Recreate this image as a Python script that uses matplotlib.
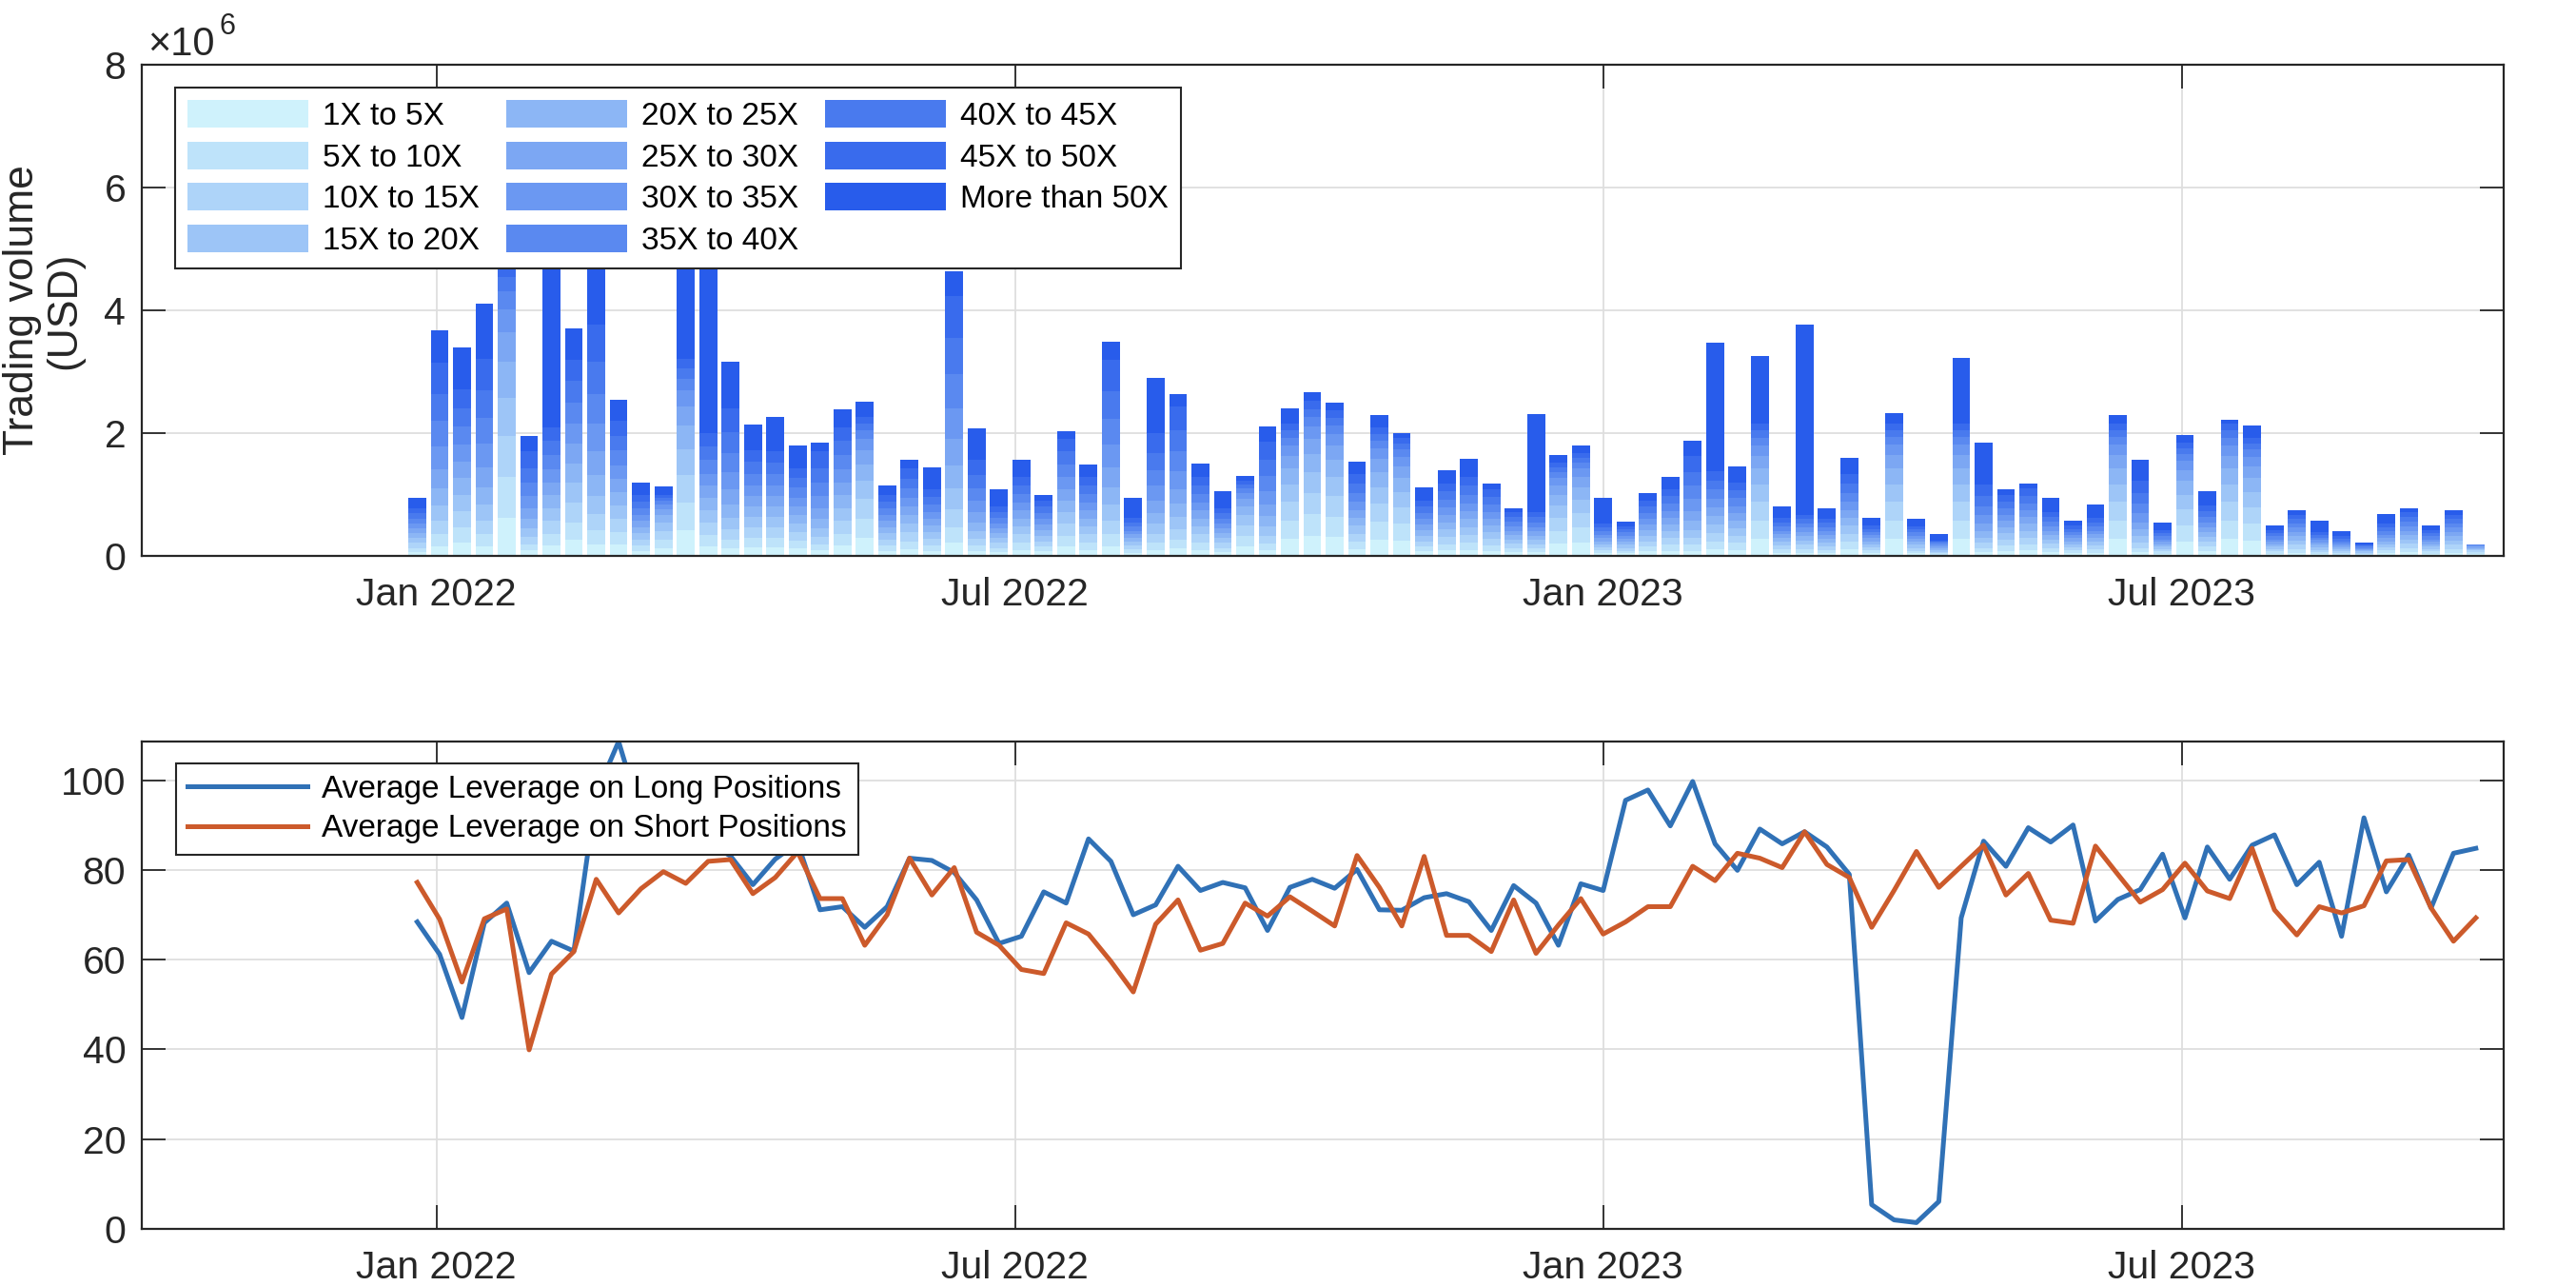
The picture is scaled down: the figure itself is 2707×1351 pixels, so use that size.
import numpy as np
import pandas as pd
import matplotlib
matplotlib.use('Agg')
import matplotlib.pyplot as plt
import matplotlib.dates as mdates

plt.rcParams['font.family'] = ['Liberation Sans', 'DejaVu Sans']

# ---------------- data ----------------
start_date = '2021-12-26'
n_weeks = 93
dates = pd.date_range(start_date, periods=n_weeks, freq='7D')

bucket_labels = ['1X to 5X', '5X to 10X', '10X to 15X', '15X to 20X', '20X to 25X',
                 '25X to 30X', '30X to 35X', '35X to 40X', '40X to 45X', '45X to 50X',
                 'More than 50X']

# weekly trading volume per leverage bucket, millions of USD
vol_1_5 = [.06,.16,.22,.16,.62,.09,.17,.26,.19,.18,
           .08,.13,.42,.16,.12,.14,.14,.12,.09,.17,
           .29,.08,.11,.08,.21,.08,.06,.10,.07,.16,
           .10,.16,.05,.10,.12,.10,.06,.16,.09,.28,
           .33,.31,.11,.27,.25,.07,.09,.10,.08,.06,
           .06,.20,.22,.04,.04,.07,.08,.08,.11,.10,
           .28,.05,.05,.05,.11,.04,.28,.04,.02,.28,
           .06,.08,.09,.06,.04,.05,.28,.06,.03,.24,
           .07,.28,.25,.03,.05,.03,.02,.01,.04,.06,
           .03,.05,.03]
vol_5_10 = [.07,.19,.24,.19,.67,.10,.19,.29,.23,.20,
            .09,.14,.45,.18,.14,.16,.15,.13,.10,.19,
            .32,.09,.13,.09,.25,.09,.07,.12,.08,.17,
            .12,.19,.06,.12,.15,.12,.07,.17,.11,.30,
            .35,.33,.12,.29,.27,.08,.10,.11,.09,.07,
            .06,.21,.24,.05,.04,.08,.10,.10,.12,.11,
            .30,.06,.06,.05,.12,.05,.30,.04,.02,.30,
            .07,.09,.10,.07,.05,.06,.30,.07,.04,.26,
            .08,.30,.27,.04,.06,.03,.03,.02,.05,.07,
            .04,.06,.03]
vol_10_15 = [.08,.22,.27,.22,.67,.12,.21,.32,.26,.22,
             .10,.14,.45,.20,.17,.17,.17,.14,.12,.21,
             .32,.10,.14,.11,.30,.11,.08,.13,.09,.19,
             .13,.22,.06,.14,.17,.13,.08,.17,.13,.30,
             .35,.33,.13,.29,.27,.09,.12,.13,.11,.07,
             .07,.21,.24,.05,.05,.09,.11,.11,.14,.12,
             .30,.06,.07,.06,.13,.05,.30,.05,.02,.30,
             .08,.10,.11,.07,.05,.06,.30,.09,.04,.26,
             .08,.30,.27,.04,.07,.04,.03,.02,.05,.07,
             .04,.07,.03]
vol_15_20 = [.08,.25,.27,.26,.62,.14,.21,.32,.30,.22,
             .10,.13,.42,.20,.19,.17,.17,.14,.14,.21,
             .29,.10,.14,.11,.34,.13,.08,.13,.09,.19,
             .13,.26,.06,.16,.19,.13,.08,.16,.15,.28,
             .33,.31,.13,.27,.25,.09,.12,.13,.11,.07,
             .07,.20,.22,.05,.05,.09,.11,.13,.14,.12,
             .28,.06,.07,.06,.13,.05,.28,.05,.03,.28,
             .09,.10,.11,.07,.05,.06,.28,.10,.04,.24,
             .08,.28,.25,.04,.07,.04,.03,.02,.05,.07,
             .04,.07,.02]
vol_20_25 = [.08,.28,.27,.29,.58,.15,.21,.32,.34,.22,
             .10,.12,.38,.20,.22,.17,.17,.14,.15,.21,
             .27,.10,.14,.11,.38,.14,.08,.13,.09,.19,
             .13,.29,.06,.18,.22,.13,.08,.15,.17,.26,
             .30,.28,.13,.25,.23,.09,.12,.13,.11,.07,
             .07,.18,.20,.05,.05,.09,.11,.15,.14,.12,
             .26,.06,.07,.06,.13,.05,.26,.05,.03,.26,
             .10,.10,.11,.07,.05,.06,.26,.11,.04,.22,
             .08,.26,.23,.04,.07,.04,.03,.02,.05,.07,
             .04,.07,.02]
vol_25_30 = [.08,.31,.27,.32,.48,.17,.21,.32,.38,.22,
             .10,.10,.32,.20,.24,.17,.17,.14,.17,.21,
             .23,.10,.14,.11,.42,.16,.08,.13,.09,.19,
             .13,.32,.06,.20,.24,.13,.08,.12,.19,.21,
             .25,.24,.13,.21,.19,.09,.12,.13,.11,.07,
             .07,.15,.17,.05,.05,.09,.11,.16,.14,.12,
             .21,.06,.07,.06,.13,.05,.22,.05,.03,.22,
             .12,.10,.11,.07,.05,.06,.22,.12,.04,.18,
             .08,.21,.19,.04,.07,.04,.03,.02,.05,.07,
             .04,.07,.02]
vol_30_35 = [.08,.38,.27,.39,.38,.20,.21,.32,.45,.22,
             .10,.08,.26,.20,.29,.17,.17,.14,.20,.21,
             .18,.10,.14,.11,.51,.19,.08,.13,.09,.19,
             .13,.38,.06,.24,.29,.13,.08,.10,.22,.17,
             .20,.19,.13,.17,.15,.09,.12,.13,.11,.07,
             .07,.12,.13,.05,.05,.09,.11,.20,.14,.12,
             .17,.06,.07,.06,.13,.05,.17,.05,.03,.17,
             .14,.10,.11,.07,.05,.06,.17,.15,.04,.15,
             .08,.17,.15,.04,.07,.04,.03,.02,.05,.07,
             .04,.07,.02]
vol_35_40 = [.08,.41,.30,.42,.29,.22,.23,.35,.49,.24,
             .11,.06,.19,.22,.31,.19,.19,.16,.22,.23,
             .14,.11,.16,.12,.55,.20,.09,.14,.10,.21,
             .14,.41,.07,.26,.32,.14,.08,.07,.24,.13,
             .15,.14,.15,.13,.12,.10,.13,.14,.12,.08,
             .08,.09,.10,.06,.05,.10,.12,.21,.15,.13,
             .13,.07,.07,.07,.15,.05,.13,.05,.03,.13,
             .15,.11,.12,.08,.05,.07,.13,.16,.05,.11,
             .09,.13,.12,.05,.07,.04,.04,.02,.06,.08,
             .05,.07,.01]
vol_40_45 = [.08,.44,.30,.45,.24,.24,.23,.35,.53,.24,
             .11,.05,.16,.22,.34,.19,.19,.16,.24,.23,
             .11,.11,.16,.12,.59,.22,.09,.14,.10,.21,
             .14,.45,.07,.28,.34,.14,.08,.06,.26,.11,
             .13,.12,.15,.11,.10,.10,.13,.14,.12,.08,
             .08,.08,.08,.06,.05,.10,.12,.23,.15,.13,
             .11,.07,.07,.07,.15,.05,.11,.05,.02,.11,
             .16,.11,.12,.08,.05,.07,.11,.17,.05,.09,
             .09,.11,.10,.05,.07,.04,.04,.02,.06,.08,
             .05,.07,.01]
vol_45_50 = [.08,.50,.30,.51,.24,.27,.23,.35,.60,.24,
             .11,.05,.16,.22,.38,.19,.19,.16,.27,.23,
             .11,.11,.16,.12,.68,.25,.09,.14,.10,.21,
             .14,.51,.07,.32,.39,.14,.08,.06,.30,.11,
             .13,.12,.15,.11,.10,.10,.13,.14,.12,.08,
             .08,.08,.08,.06,.05,.10,.12,.26,.15,.13,
             .11,.07,.07,.07,.15,.05,.11,.05,.02,.11,
             .19,.11,.12,.08,.05,.07,.11,.20,.05,.09,
             .09,.11,.10,.05,.07,.04,.04,.02,.06,.08,
             .05,.07,.00]
vol_over_50 = [.17,.54,.69,.90,.60,.25,3.70,.50,1.75,.35,
               .20,.13,3.00,3.30,.76,.42,.55,.37,.14,.28,
               .25,.14,.15,.36,.40,.50,.29,.28,.10,.12,
               .20,.30,.33,.90,.20,.22,.28,.08,.25,.25,
               .14,.13,.20,.19,.07,.21,.21,.30,.10,.06,
               1.60,.12,.12,.43,.08,.13,.20,.25,2.10,.25,
               1.10,.18,3.10,.17,.27,.13,.17,.13,.10,1.07,
               .68,.08,.08,.22,.08,.22,.14,.34,.13,.13,
               .23,.07,.19,.08,.07,.20,.09,.02,.16,.06,
               .07,.07,.00]

long_leverage = [68.4, 61.2, 47.1, 68.2, 72.6, 57.1, 64.1, 61.9, 97.0, 108.6,
                 92.0, 88.0, 85.0, 86.0, 83.1, 76.7, 82.4, 86.0, 71.1, 71.8,
                 67.2, 71.8, 82.6, 82.1, 79.4, 73.3, 63.6, 65.2, 75.1, 72.6,
                 86.9, 81.9, 70.0, 72.2, 80.8, 75.4, 77.2, 76.0, 66.5, 76.1,
                 77.9, 75.9, 80.1, 71.1, 71.0, 73.8, 74.7, 72.9, 66.5, 76.5,
                 72.6, 63.2, 76.9, 75.4, 95.5, 97.8, 89.8, 99.7, 85.8, 79.9,
                 89.1, 85.8, 88.5, 85.1, 79.0, 5.4, 2.0, 1.4, 6.1, 69.3,
                 86.4, 80.8, 89.4, 86.2, 90.0, 68.6, 73.4, 75.6, 83.5, 69.3,
                 85.1, 77.9, 85.5, 87.8, 76.7, 81.7, 65.2, 91.6, 75.1, 83.3,
                 71.5, 83.7, 84.8]
short_leverage = [77.2, 69.0, 55.0, 69.1, 71.3, 39.9, 56.8, 61.8, 77.9, 70.4,
                  75.8, 79.6, 77.0, 81.9, 82.3, 74.7, 78.3, 84.0, 73.6, 73.6,
                  63.2, 70.0, 82.6, 74.4, 80.5, 66.1, 63.2, 57.8, 56.9, 68.2,
                  65.7, 59.6, 52.8, 67.9, 73.3, 62.1, 63.6, 72.6, 69.7, 74.0,
                  70.8, 67.5, 83.2, 76.1, 67.5, 83.0, 65.4, 65.4, 61.8, 73.3,
                  61.4, 67.7, 73.6, 65.7, 68.4, 71.8, 71.8, 80.8, 77.6, 83.7,
                  82.6, 80.5, 88.5, 81.2, 78.3, 67.2, 75.4, 84.1, 76.1, 80.8,
                  85.5, 74.4, 79.2, 68.8, 68.1, 85.3, 79.0, 72.8, 75.6, 81.5,
                  75.3, 73.6, 84.8, 71.1, 65.5, 71.8, 70.4, 72.0, 82.0, 82.3,
                  71.5, 64.1, 69.3]

line_labels = ['Average Leverage on Long Positions', 'Average Leverage on Short Positions']
x_tick_dates = ['2022-01-01', '2022-07-01', '2023-01-01', '2023-07-01']

buckets = [vol_1_5, vol_5_10, vol_10_15, vol_15_20, vol_20_25, vol_25_30,
           vol_30_35, vol_35_40, vol_40_45, vol_45_50, vol_over_50]

# ---------------- style ----------------
W, H = 2707, 1351
fig = plt.figure(figsize=(W / 100, H / 100), dpi=100)
ax1 = fig.add_axes([149 / W, 1 - 584 / H, 2482 / W, 516 / H])
ax2 = fig.add_axes([149 / W, 1 - 1291 / H, 2482 / W, 512 / H])

c_light = np.array([207, 242, 252]) / 255
c_dark = np.array([40, 92, 235]) / 255
bar_colors = [tuple(c_light + (c_dark - c_light) * k / 10) for k in range(11)]

dark = '#262626'
tick_fs = 29.5
leg_fs = 24

# ---------------- top: stacked bars ----------------
bottom = np.zeros(n_weeks)
handles = []
for vals, col, lab in zip(buckets, bar_colors, bucket_labels):
    v = np.array(vals)
    b = ax1.bar(dates, v, bottom=bottom, width=5.6, color=col, edgecolor='none',
                label=lab, zorder=2)
    handles.append(b)
    bottom = bottom + v

ax1.set_ylim(0, 8)
ax1.set_yticks([0, 2, 4, 6, 8])

# ---------------- bottom: lines ----------------
ax2.plot(dates, long_leverage, color='#3071B6', lw=3.6, label=line_labels[0], zorder=3)
ax2.plot(dates, short_leverage, color='#CC5A2B', lw=3.6, label=line_labels[1], zorder=3)
ax2.set_ylim(0, 108.6)
ax2.set_yticks([0, 20, 40, 60, 80, 100])

xmin = mdates.date2num(pd.Timestamp('2021-09-30 20:00'))
xmax = mdates.date2num(pd.Timestamp('2023-10-09 17:00'))
xt = [mdates.date2num(pd.Timestamp(d)) for d in x_tick_dates]

for ax in (ax1, ax2):
    ax.set_xlim(xmin, xmax)
    ax.set_xticks(xt)
    ax.xaxis.set_major_formatter(mdates.DateFormatter('%b %Y'))
    ax.set_axisbelow(True)
    ax.grid(True, color='#DEDEDE', lw=1.3, zorder=0)
    ax.tick_params(direction='in', length=18, width=1.3, top=True, right=True,
                   labelsize=tick_fs, colors=dark, labelcolor=dark)
    ax.tick_params(axis='x', pad=16)
    ax.tick_params(axis='y', pad=12)
    for s in ax.spines.values():
        s.set_color(dark)
        s.set_linewidth(1.6)
        s.set_zorder(6)

# legends
leg1 = ax1.legend(handles=handles, loc='upper left', bbox_to_anchor=(0.0141, 0.9535),
                  borderaxespad=0, ncol=3, fontsize=leg_fs, frameon=True, fancybox=False,
                  framealpha=1, edgecolor=dark, borderpad=0.4, handlelength=3.8,
                  handleheight=0.95, handletextpad=0.45, columnspacing=0.85,
                  labelspacing=0.32)
leg1.get_frame().set_linewidth(1.5)
leg1.set_zorder(10)

leg2 = ax2.legend(loc='upper left', bbox_to_anchor=(0.0145, 0.955), borderaxespad=0,
                  fontsize=leg_fs, frameon=True, fancybox=False, framealpha=1,
                  edgecolor=dark, borderpad=0.35, handlelength=3.8,
                  handletextpad=0.45, labelspacing=0.32)
leg2.get_frame().set_linewidth(1.5)
leg2.set_zorder(10)

# multiplier text and y label
fig.text(155 / W, 1 - 58 / H, '\u00d710', fontsize=30, color=dark,
         ha='left', va='baseline')
fig.text(230 / W, 1 - 36 / H, '6', fontsize=22, color=dark, ha='left', va='baseline')
fig.text(46 / W, 1 - 326 / H, 'Trading volume\n(USD)', rotation=90, fontsize=32,
         color=dark, ha='center', va='center', multialignment='center',
         linespacing=1.1)

fig.savefig('out.png', dpi=100)
